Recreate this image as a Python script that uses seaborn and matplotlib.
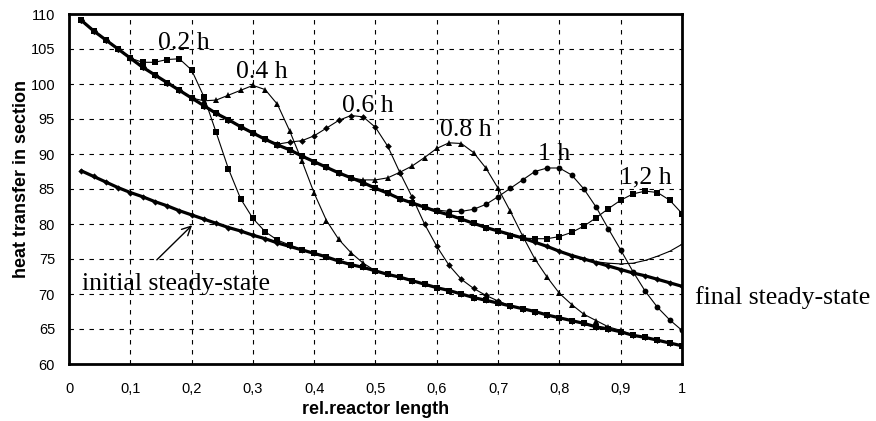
import matplotlib
matplotlib.use("Agg")
import matplotlib.pyplot as plt
import seaborn as sns

# sampling points along the reactor
x = [0.02, 0.04, 0.06, 0.08, 0.10, 0.12, 0.14, 0.16, 0.18, 0.20,
     0.22, 0.24, 0.26, 0.28, 0.30, 0.32, 0.34, 0.36, 0.38, 0.40,
     0.42, 0.44, 0.46, 0.48, 0.50, 0.52, 0.54, 0.56, 0.58, 0.60,
     0.62, 0.64, 0.66, 0.68, 0.70, 0.72, 0.74, 0.76, 0.78, 0.80,
     0.82, 0.84, 0.86, 0.88, 0.90, 0.92, 0.94, 0.96, 0.98, 1.00]

final = [109.1, 107.6, 106.3, 105.0, 103.7, 102.4, 101.3, 100.2, 99.1, 98.0,
         96.9, 95.8, 94.9, 93.9, 93.0, 92.1, 91.3, 90.6, 89.7, 88.9,
         88.1, 87.3, 86.6, 85.9, 85.1, 84.4, 83.6, 83.0, 82.4, 81.8,
         81.3, 80.7, 80.1, 79.5, 79.0, 78.5, 78.0, 77.4, 76.8, 76.1,
         75.5, 75.0, 74.5, 74.0, 73.5, 73.0, 72.6, 72.1, 71.6, 71.1]

initial = [87.6, 86.8, 86.0, 85.2, 84.5, 83.9, 83.2, 82.6, 81.9, 81.3,
           80.7, 80.1, 79.5, 79.0, 78.4, 77.9, 77.3, 76.8, 76.3, 75.8,
           75.3, 74.7, 74.2, 73.8, 73.3, 72.8, 72.4, 71.9, 71.4, 70.9,
           70.5, 70.0, 69.5, 69.1, 68.7, 68.3, 67.9, 67.5, 67.0, 66.6,
           66.2, 65.8, 65.3, 65.0, 64.6, 64.1, 63.8, 63.4, 63.0, 62.6]

# transient profiles: they sit on the final profile upstream, then the
# front, then back on the initial profile downstream
h02 = ([109.1, 107.6, 106.3, 105.0, 103.7, 103.1, 103.1, 103.5, 103.6, 102.0,
        98.2, 93.1, 87.9, 83.6, 80.8, 78.9, 77.7, 77.0] + initial[18:])
h04 = (final[:10] + [97.6, 97.7, 98.4, 99.1, 99.8, 99.2, 97.1, 93.3, 89.0,
                     84.4, 80.5, 77.8, 75.9, 74.4] + initial[24:])
h06 = (final[:16] + [91.4, 91.7, 91.9, 92.6, 93.7, 94.8, 95.5, 95.3, 93.8,
                     91.1, 87.3, 83.8, 80.0, 76.8, 74.1, 72.1, 70.8, 69.8,
                     69.0] + initial[35:])
h08 = (final[:23] + [86.3, 86.3, 86.6, 87.4, 88.3, 89.5, 90.8, 91.6, 91.5,
                     90.2, 88.0, 85.1, 81.8, 78.3, 75.0, 72.4, 70.1, 68.5,
                     67.1, 66.2, 65.3, 64.8] + initial[45:])
h10 = (final[:29] + [82.0, 81.8, 81.8, 82.1, 82.8, 83.9, 85.1, 86.3, 87.5,
                     88.0, 88.0, 87.0, 85.0, 82.4, 79.3, 76.3, 73.2, 70.4,
                     68.1, 66.3, 64.8])
h12 = (final[:35] + [78.3, 78.0, 77.9, 77.9, 78.2, 78.8, 79.7, 80.9, 82.2,
                     83.4, 84.3, 84.7, 84.5, 83.4, 81.5])
h14 = final[:42] + [74.6, 74.4, 74.3, 74.4, 74.8, 75.4, 76.1, 77.1]

xticks = [0, 0.1, 0.2, 0.3, 0.4, 0.5, 0.6, 0.7, 0.8, 0.9, 1.0]
xtick_labels = ["0", "0,1", "0,2", "0,3", "0,4", "0,5", "0,6", "0,7", "0,8", "0,9", "1"]
yticks = [60, 65, 70, 75, 80, 85, 90, 95, 100, 105, 110]

time_labels = ["0.2 h", "0.4 h", "0.6 h", "0.8 h", "1 h", "1,2 h"]
time_label_pos = [(0.188, 105.0), (0.314, 100.8), (0.487, 96.0),
                  (0.647, 92.6), (0.792, 89.1), (0.941, 85.8)]

sns.set_style("white")
plt.rcParams['font.family'] = ['Liberation Sans', 'DejaVu Sans']
plt.rcParams['text.color'] = 'black'
plt.rcParams['axes.labelcolor'] = 'black'
plt.rcParams['xtick.color'] = 'black'
plt.rcParams['ytick.color'] = 'black'

fig = plt.figure(figsize=(8.76, 4.21), dpi=100)
ax = fig.add_axes([69 / 876, 57 / 421, 613 / 876, 350 / 421])

# steady states (thick)
for ys in (final, initial):
    sns.lineplot(x=x, y=ys, ax=ax, color="black", linewidth=2.3,
                 marker="D", markersize=3.2, markeredgewidth=0, zorder=3)

curves = [(h02, "s", 4.5), (h04, "^", 4.8), (h06, "D", 3.4),
          (h08, "^", 4.8), (h10, "o", 4.2), (h12, "s", 4.5), (h14, "_", 2.5)]
for ys, mk, ms in curves:
    sns.lineplot(x=x, y=ys, ax=ax, color="black", linewidth=0.8,
                 marker=mk, markersize=ms, markeredgewidth=0.6 if mk == "_" else 0,
                 markeredgecolor="black", zorder=4)

ax.set_xlim(0, 1)
ax.set_ylim(60, 110)
ax.set_xticks(xticks)
ax.set_xticklabels(xtick_labels)
ax.set_yticks(yticks)
ax.grid(True, color="black", linestyle=(0, (4, 5)), linewidth=0.8)
ax.set_axisbelow(True)
for sp in ax.spines.values():
    sp.set_color("black")
    sp.set_linewidth(2.0)
ax.tick_params(direction="out", length=4, width=1.2, colors="black",
               labelsize=10.5)
ax.tick_params(axis="y", pad=6)
ax.tick_params(axis="x", pad=9)

ax.set_xlabel("rel.reactor length", fontsize=13, fontweight="bold")
ax.set_ylabel("heat transfer in section", fontsize=13, fontweight="bold")
ax.xaxis.set_label_coords(0.5, -0.106)
ax.yaxis.set_label_coords(-0.077, 0.529)
ax.yaxis.label.set_va("center")

for lab, (tx, ty) in zip(time_labels, time_label_pos):
    ax.text(tx, ty, lab, ha="center", va="baseline", fontsize=18.5,
            family="Liberation Serif", color="black", zorder=6)

ax.text(1.021, 68.6, "final steady-state", ha="left", va="baseline",
        fontsize=18.5, family="Liberation Serif", color="black", clip_on=False)
ax.text(0.021, 70.6, "initial steady-state", ha="left", va="baseline",
        fontsize=18.5, family="Liberation Serif", color="black", zorder=6)
ax.annotate("", xy=(0.204, 80.1), xytext=(0.140, 74.6),
            arrowprops=dict(arrowstyle="->", color="black", lw=1.0,
                            mutation_scale=16))

fig.savefig("out.png", dpi=100)
